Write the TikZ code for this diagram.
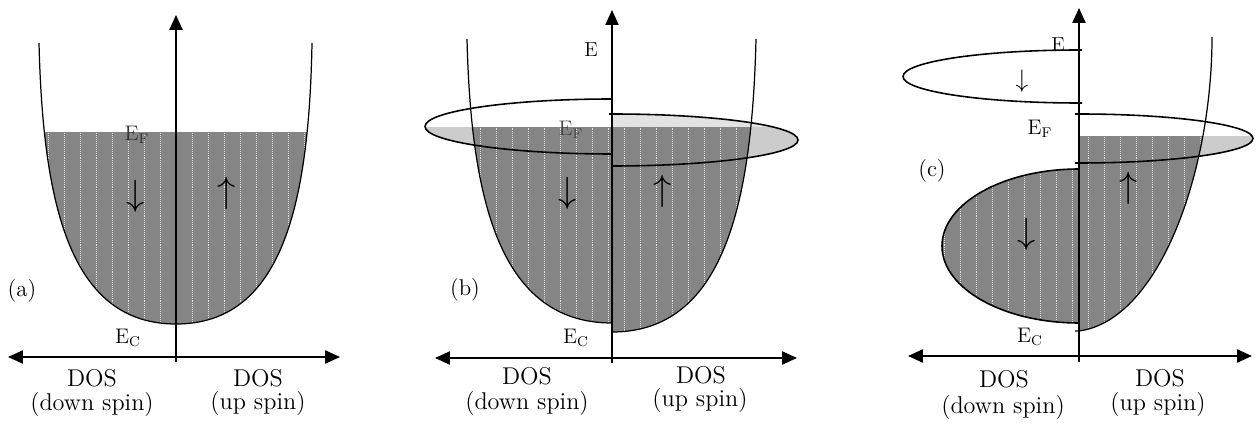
\documentclass[tikz,border=0pt]{standalone}
\usetikzlibrary{arrows.meta}
\newcommand\halfellL[4]{(#1,{#2-#4}) .. controls ({#1-0.5523*#3},{#2-#4}) and ({#1-#3},{#2-0.5523*#4}) .. ({#1-#3},#2) .. controls ({#1-#3},{#2+0.5523*#4}) and ({#1-0.5523*#3},{#2+#4}) .. (#1,{#2+#4})}
\newcommand\halfellR[4]{(#1,{#2-#4}) .. controls ({#1+0.5523*#3},{#2-#4}) and ({#1+#3},{#2-0.5523*#4}) .. ({#1+#3},#2) .. controls ({#1+#3},{#2+0.5523*#4}) and ({#1+0.5523*#3},{#2+#4}) .. (#1,{#2+#4})}
\newcommand\dosfill[2]{\fill[patfill] (#1,0) rectangle (#2,425);
  \foreach \sx in {0,16,...,1264} {\draw[stripe] (\sx,0) -- (\sx,425);}}
\tikzset{
  curve/.style={line width=0.7pt},
  axis/.style={line width=0.9pt,-{Triangle[length=8.5pt,width=7.5pt]}},
  patfill/.style={fill=black!48},
  stripe/.style={white!85!black,line width=0.45pt,dash pattern=on 0.55pt off 0.55pt},
  lgrey/.style={fill=black!20},
  vlgrey/.style={fill=black!11},
  ell/.style={line width=0.9pt},
  lbl/.style={inner sep=0pt,font=\fontsize{13.8}{16}\selectfont},
  plbl/.style={inner sep=0pt,font=\fontsize{13}{15}\selectfont},
  elbl/.style={inner sep=0pt,font=\fontsize{11.5}{13}\selectfont},
  spin/.style={inner sep=0pt,font=\fontsize{22}{22}\selectfont},
}
\begin{document}
\begin{tikzpicture}[x=0.02cm,y=-0.02cm]
\useasboundingbox (0,0) rectangle (1258,425);
% ================= (a) =================
\begin{scope}
  \clip (0,133) rectangle (400,340);
  \clip (39,43) .. controls (43,205) and (70,324) .. (176,324) .. controls (282,324) and (309,205) .. (312,43) -- cycle;
  \dosfill{32}{320}
\end{scope}
\draw[curve] (39,43) .. controls (43,205) and (70,324) .. (176,324) .. controls (282,324) and (309,205) .. (312,43);
\coordinate (ao) at (176,357);
\coordinate (abot) at (176,362);
\coordinate (atop) at (176,15);
\coordinate (alft) at (8,357);
\coordinate (argt) at (340,357);
\draw[axis] (abot) -- (atop);
\draw[axis] (ao) -- (alft);
\draw[axis] (ao) -- (argt);
\node[elbl,text=black!80] (aEF) at (137,135) {$\mathrm{E_F}$};
\node[elbl] (aEC) at (128,338) {$\mathrm{E_C}$};
\node[plbl] (alab) at (22,291) {(a)};
\node[spin] (adn) at (136,196) {$\downarrow$};
\node[spin] (aup) at (227,193) {$\uparrow$};
\node[lbl] (aDOSl) at (92,378) {DOS};
\node[lbl] (adsl) at (92,404) {(down spin)};
\node[lbl] (aDOSr) at (258,378) {DOS};
\node[lbl] (ausr) at (258,403) {(up spin)};
% ================= (b) =================
\begin{scope}
  \clip (400,128) rectangle (612,200);
  \fill[lgrey] \halfellL{612}{126.5}{187}{27.5} -- cycle;
\end{scope}
\fill[vlgrey] \halfellR{612}{140}{186}{26} -- cycle;
\begin{scope}
  \clip (612,128) rectangle (820,200);
  \fill[lgrey] \halfellR{612}{140}{186}{26} -- cycle;
\end{scope}
\begin{scope}
  \clip (400,128) rectangle (612,340);
  \clip (467,39) .. controls (471,201) and (500,323) .. (612,323) -- (612,39) -- cycle;
  \dosfill{464}{612}
\end{scope}
\begin{scope}
  \clip (612,128) rectangle (820,340);
  \clip (612,332) .. controls (723,332) and (752,206) .. (756,39) -- (612,39) -- cycle;
  \dosfill{612}{760}
\end{scope}
\draw[curve] (467,39) .. controls (471,201) and (500,323) .. (612,323);
\draw[curve] (612,332) .. controls (723,332) and (752,206) .. (756,39);
\draw[ell] \halfellL{612}{126.5}{187}{27.5};
\draw[ell] (609,114) -- \halfellR{612}{140}{186}{26};
\coordinate (bo) at (612,358);
\coordinate (bbot) at (612,363);
\coordinate (btop) at (612,10);
\coordinate (blft) at (435,358);
\coordinate (brgt) at (797,358);
\draw[axis] (bbot) -- (btop);
\draw[axis] (bo) -- (blft);
\draw[axis] (bo) -- (brgt);
\node[elbl] (bE) at (591,50) {E};
\node[elbl,text=black!72] (bEF) at (571,130) {$\mathrm{E_F}$};
\node[elbl] (bEC) at (576,338) {$\mathrm{E_C}$};
\node[plbl] (blab) at (465,290) {(b)};
\node[spin] (bdn) at (568,193) {$\downarrow$};
\node[spin] (bup) at (663,191) {$\uparrow$};
\node[lbl] (bDOSl) at (527,376) {DOS};
\node[lbl] (bdsl) at (527,403) {(down spin)};
\node[lbl] (bDOSr) at (701,375) {DOS};
\node[lbl] (busr) at (700,400) {(up spin)};
% ================= (c) =================
\begin{scope}
  \clip (1079,137) rectangle (1258,200);
  \fill[lgrey] \halfellR{1079}{138.5}{174}{24.5} -- cycle;
\end{scope}
\begin{scope}
  \clip (1079,137) rectangle (1258,340);
  \clip (1079,37) -- (1212,37) .. controls (1212,170) and (1160,320) .. (1079,331) -- cycle;
  \dosfill{1079}{1216}
\end{scope}
\draw[curve] (1212,37) .. controls (1212,170) and (1160,320) .. (1079,331) -- (1075,331);
\begin{scope}
  \clip \halfellL{1079}{246}{137}{77} -- cycle;
  \dosfill{940}{1080}
\end{scope}
\draw[ell] \halfellL{1079}{246}{137}{77};
\draw[ell] (1082,50) -- \halfellL{1079}{76.5}{176}{26.5} -- (1082,103);
\draw[ell] (1075,114) -- \halfellR{1079}{138.5}{174}{24.5} -- (1075,163);
\coordinate (co) at (1079,356);
\coordinate (cbot) at (1079,362);
\coordinate (ctop) at (1079,8);
\coordinate (clft) at (908,356);
\coordinate (crgt) at (1252,356);
\draw[axis] (cbot) -- (ctop);
\draw[axis] (co) -- (clft);
\draw[axis] (co) -- (crgt);
\node[elbl] (cE) at (1058,45) {E};
\node[elbl] (cEF) at (1040,129) {$\mathrm{E_F}$};
\node[elbl] (cEC) at (1030,337) {$\mathrm{E_C}$};
\node[plbl] (clab) at (932,171) {(c)};
\node[inner sep=0pt,font=\fontsize{14}{14}\selectfont] (cdn1) at (1022,81) {$\downarrow$};
\node[spin] (cdn2) at (1027,234) {$\downarrow$};
\node[spin] (cup) at (1129,188) {$\uparrow$};
\node[lbl] (cDOSl) at (1004,379) {DOS};
\node[lbl] (cdsl) at (1003,407) {(down spin)};
\node[lbl] (cDOSr) at (1160,378) {DOS};
\node[lbl] (cusr) at (1158,404) {(up spin)};
\end{tikzpicture}
\end{document}
